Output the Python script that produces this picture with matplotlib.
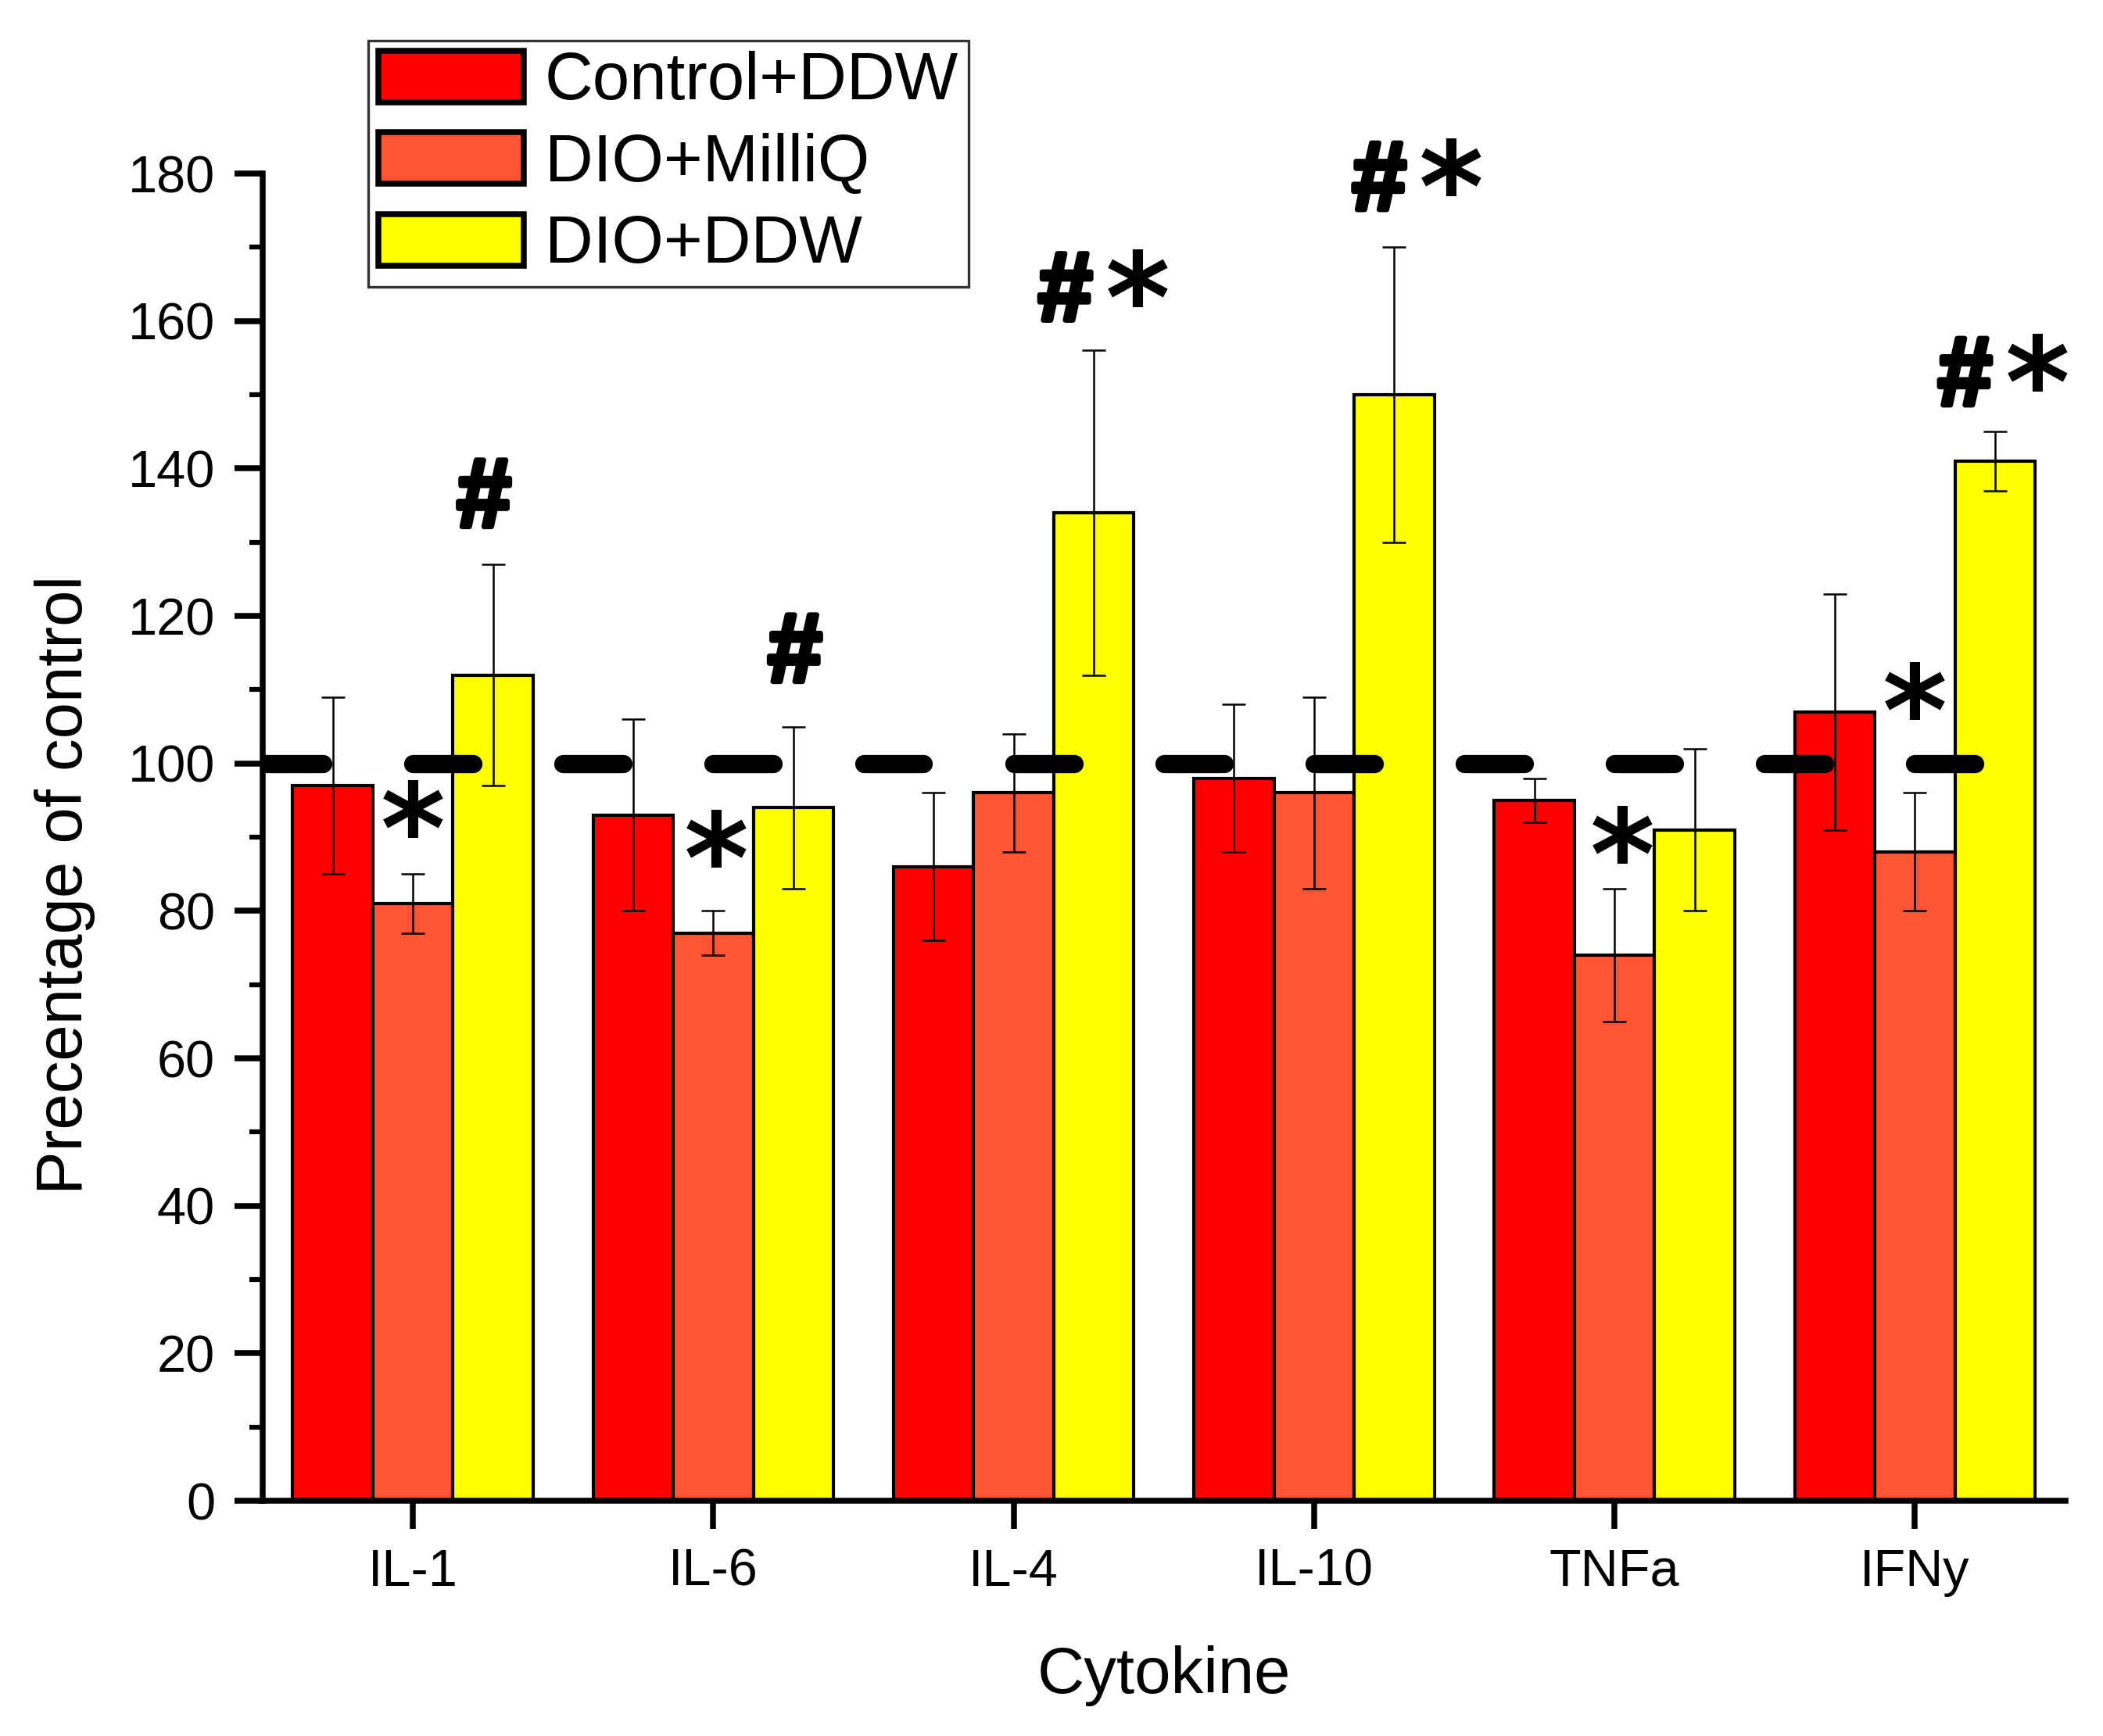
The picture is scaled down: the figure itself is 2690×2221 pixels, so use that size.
import matplotlib
matplotlib.use("Agg")
import matplotlib.pyplot as plt
import matplotlib.patheffects as pe
import numpy as np

plt.rcParams['font.family'] = ['Liberation Sans', 'DejaVu Sans']

categories = ["IL-1", "IL-6", "IL-4", "IL-10", "TNFa", "IFNy"]
series_names = ["Control+DDW", "DIO+MilliQ", "DIO+DDW"]
control_ddw = [97, 93, 86, 98, 95, 107]
control_ddw_err = [12, 13, 10, 10, 3, 16]
dio_milliq = [81, 77, 96, 96, 74, 88]
dio_milliq_err = [4, 3, 8, 13, 9, 8]
dio_ddw = [112, 94, 134, 150, 91, 141]
dio_ddw_err = [15, 11, 22, 20, 11, 4]
reference_level = 100
# significance marks per category (top of the mark, in axis units)
milliq_marks = ["*", "*", "", "", "*", "*"]
milliq_mark_top = [97, 93, None, None, 93.5, 113]
ddw_marks = ["#", "#", "#*", "#*", "", "#*"]
ddw_mark_top = [141, 120, 169, 184, None, 157.5]
yticks = [0, 20, 40, 60, 80, 100, 120, 140, 160, 180]

colors = ["#FF0000", "#FF5535", "#FFFF00"]
# small horizontal nudges of the marks (axis units)
milliq_mark_dx = [0.0, 0.01, 0.0, 0.0, 0.025, 0.0]
ddw_mark_dx = [-0.03, 0.005, 0.025, 0.07, 0.0, 0.02]

fig = plt.figure(figsize=(2690/300, 2221/300), dpi=300)
ax = fig.add_axes([0.1249, 0.1355, 0.982-0.1249, 0.9-0.1355])

x = np.arange(len(categories))
w = 0.8/3
values = [control_ddw, dio_milliq, dio_ddw]
errs = [control_ddw_err, dio_milliq_err, dio_ddw_err]
for i, (v, e) in enumerate(zip(values, errs)):
    pos = x + (i-1)*w
    ax.bar(pos, v, width=w, color=colors[i], edgecolor='black', linewidth=1.0,
           label=series_names[i], zorder=2)
    ax.errorbar(pos, v, yerr=e, fmt='none', ecolor='black', elinewidth=0.6,
                capsize=3.7, capthick=0.6, zorder=3)

# reference dashes at control level
for xi in x:
    for a, b in [(-0.50, -0.30), (0.0, 0.20)]:
        ax.plot([xi+a, xi+b], [reference_level, reference_level], color='black',
                lw=5.6, solid_capstyle='round', zorder=4)

HASH_SIZE = 30
STAR_SIZE = 38
HASH_TOP = 0.67
STAR_TOP = 0.70


def draw_mark(ch, xpos, top):
    if ch == '#':
        ax.annotate('#', xy=(xpos, top), xytext=(0, -HASH_TOP*HASH_SIZE),
                    textcoords='offset points', ha='center', va='baseline',
                    fontsize=HASH_SIZE, fontweight='bold', family='Liberation Sans',
                    zorder=5, annotation_clip=False,
                    path_effects=[pe.withStroke(linewidth=1.6, foreground='black')])
    else:
        ax.annotate('*', xy=(xpos, top), xytext=(0, -STAR_TOP*STAR_SIZE),
                    textcoords='offset points', ha='center', va='baseline',
                    fontsize=STAR_SIZE, fontweight='bold', family='DejaVu Sans',
                    zorder=5, annotation_clip=False)


for xi, lab, top, dx in zip(x, milliq_marks, milliq_mark_top, milliq_mark_dx):
    if lab:
        draw_mark('*', xi + dx, top)
for xi, lab, top, dx in zip(x, ddw_marks, ddw_mark_top, ddw_mark_dx):
    if lab == '#':
        draw_mark('#', xi + w + dx, top)
    elif lab == '#*':
        draw_mark('#', xi + w + dx - 0.12, top)
        draw_mark('*', xi + w + dx + 0.12, top)

ax.set_xlim(-0.5, 5.5)
ax.set_ylim(0, 180)
ax.set_yticks(yticks)
ax.set_yticks(np.arange(10, 180, 20), minor=True)
ax.set_xticks(x)
ax.set_xticklabels(categories)
for s in ['top', 'right']:
    ax.spines[s].set_visible(False)
for s in ['left', 'bottom']:
    ax.spines[s].set_linewidth(1.8)
ax.tick_params(axis='both', which='major', direction='out', length=8.6, width=1.8,
               labelsize=16, pad=6)
ax.tick_params(axis='y', which='minor', direction='out', length=4.2, width=1.5)
ax.set_xlabel("Cytokine", fontsize=20, labelpad=15)
ax.set_ylabel("Precentage of control", fontsize=20)
ax.yaxis.set_label_coords(-0.093, 0.464)

leg = fig.legend(loc='upper left', bbox_to_anchor=(0.175, 0.9766),
                 bbox_transform=fig.transFigure, fontsize=20.5, frameon=True,
                 fancybox=False, edgecolor='black', handlelength=2.18,
                 handleheight=0.81, labelspacing=0.28, handletextpad=0.32,
                 borderpad=0.15, borderaxespad=0)
leg.get_frame().set_linewidth(0.8)
for p in leg.get_patches():
    p.set_linewidth(1.8)

fig.savefig("out.png", dpi=300)
